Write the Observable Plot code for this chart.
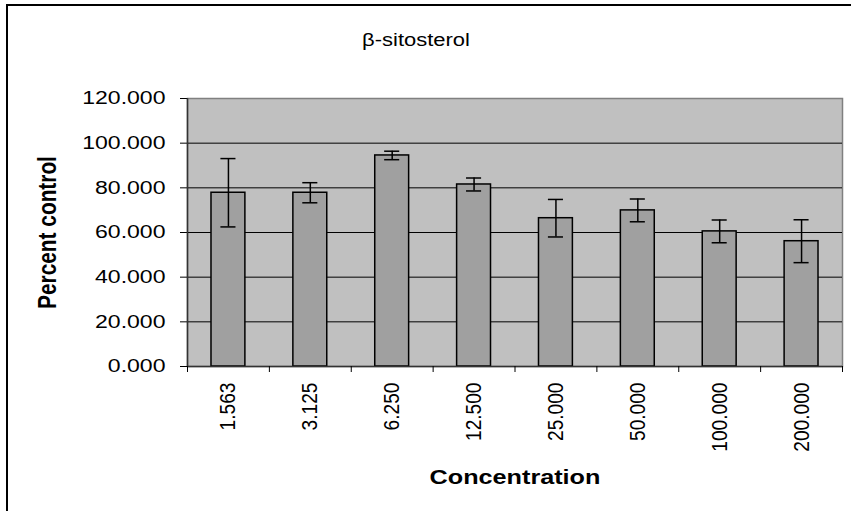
<!DOCTYPE html>
<html>
<head>
<meta charset="utf-8">
<script src="https://cdn.jsdelivr.net/npm/d3@7"></script>
<script src="https://cdn.jsdelivr.net/npm/@observablehq/plot@0.6"></script>
<style>
  html, body { margin: 0; padding: 0; background: #fff; overflow: hidden; width: 851px; height: 511px; }
  #wrap { position: relative; width: 851px; height: 511px; }
  #border { position: absolute; left: 6px; top: 4px; width: 900px; height: 600px; border: 2px solid #000; box-sizing: border-box; }
  #chart { position: absolute; left: 0; top: 0; }
</style>
</head>
<body>
<div id="wrap"><div id="border"></div><div id="chart"></div></div>
<script>
// ---- data ----
const titleText = "β-sitosterol";
const xTitle = "Concentration";
const yTitle = "Percent control";
const concentrations = ["1.563", "3.125", "6.250", "12.500", "25.000", "50.000", "100.000", "200.000"];
const means = [77.8, 77.8, 94.5, 81.5, 66.4, 69.9, 60.5, 56.1];
const errors = [15.3, 4.5, 1.9, 2.9, 8.4, 5.1, 5.1, 9.6];
const yTicks = [0, 20, 40, 60, 80, 100, 120];
const gridLines = [20, 40, 60, 80, 100];

const data = concentrations.map((c, i) => ({i, label: c, value: means[i], err: errors[i]}));
const boundaries = d3.range(0, concentrations.length + 1);
const centers = d3.range(0, concentrations.length).map(i => i + 0.5);
const halfBar = 0.207;
const halfCap = 0.092;

const font = "'Liberation Sans', Arial, sans-serif";

const chart = Plot.plot({
  width: 851,
  height: 511,
  marginLeft: 187,
  marginRight: 9,
  marginTop: 98,
  marginBottom: 145,
  style: {background: "transparent", fontFamily: font, color: "#000", overflow: "visible"},
  x: {type: "linear", domain: [0, concentrations.length]},
  y: {domain: [0, 120]},
  marks: [
    Plot.frame({fill: "#C0C0C0", stroke: "#808080", strokeWidth: 1.5}),
    Plot.ruleY(gridLines, {stroke: "#000", strokeWidth: 1}),
    Plot.rectY(data, {x1: d => d.i + 0.5 - halfBar, x2: d => d.i + 0.5 + halfBar, y1: 0, y2: "value", fill: "#A0A0A0", stroke: "#000", strokeWidth: 1.5}),
    Plot.ruleX(data, {x: d => d.i + 0.5, y1: d => d.value - d.err, y2: d => d.value + d.err, stroke: "#000", strokeWidth: 1.5}),
    Plot.ruleY(data, {y: d => d.value + d.err, x1: d => d.i + 0.5 - halfCap, x2: d => d.i + 0.5 + halfCap, stroke: "#000", strokeWidth: 1.5}),
    Plot.ruleY(data, {y: d => d.value - d.err, x1: d => d.i + 0.5 - halfCap, x2: d => d.i + 0.5 + halfCap, stroke: "#000", strokeWidth: 1.5}),
    Plot.axisY({ticks: yTicks, tickFormat: d3.format(".3f"), tickSize: 7, tickPadding: 15, fontSize: 18, label: null, stroke: "#000"}),
    Plot.ruleX([0], {stroke: "#333", strokeWidth: 1.5}),
    Plot.ruleY([0], {stroke: "#333", strokeWidth: 1.5}),
    Plot.axisX({ticks: boundaries, tickSize: 6, tickFormat: () => "", label: null, stroke: "#000"}),
    Plot.axisX({ticks: centers, tickSize: 0, tickFormat: v => concentrations[Math.floor(v)], tickRotate: -90, tickPadding: 16, fontSize: 22, label: null}),
    Plot.text([yTitle], {text: d => d, frameAnchor: "left", dx: -140, rotate: -90, textAnchor: "middle", lineAnchor: "middle", fontWeight: "bold", fontSize: 25}),
    Plot.text([xTitle], {text: d => d, frameAnchor: "bottom", dy: 111, textAnchor: "middle", lineAnchor: "middle", fontWeight: "bold", fontSize: 21}),
    Plot.text([titleText], {text: d => d, frameAnchor: "top", dx: -99, dy: -58, textAnchor: "middle", lineAnchor: "middle", fontSize: 18})
  ]
});
document.getElementById("chart").append(chart);

// the reference's text is wider than it is tall: stretch glyphs horizontally
chart.querySelectorAll("text").forEach(t => {
  const content = t.textContent;
  const rotated = /rotate/.test(t.getAttribute("transform") || "");
  let f;
  if (content === yTitle) f = 1 / 1.2;
  else if (content === xTitle) f = 1.2;
  else if (content === titleText) f = 1.22;
  else if (rotated) f = 1 / 1.15;
  else f = 1.28;
  const len = t.getComputedTextLength();
  if (len > 0) {
    t.setAttribute("textLength", (len * f).toFixed(1));
    t.setAttribute("lengthAdjust", "spacingAndGlyphs");
  }
});
</script>
</body>
</html>
